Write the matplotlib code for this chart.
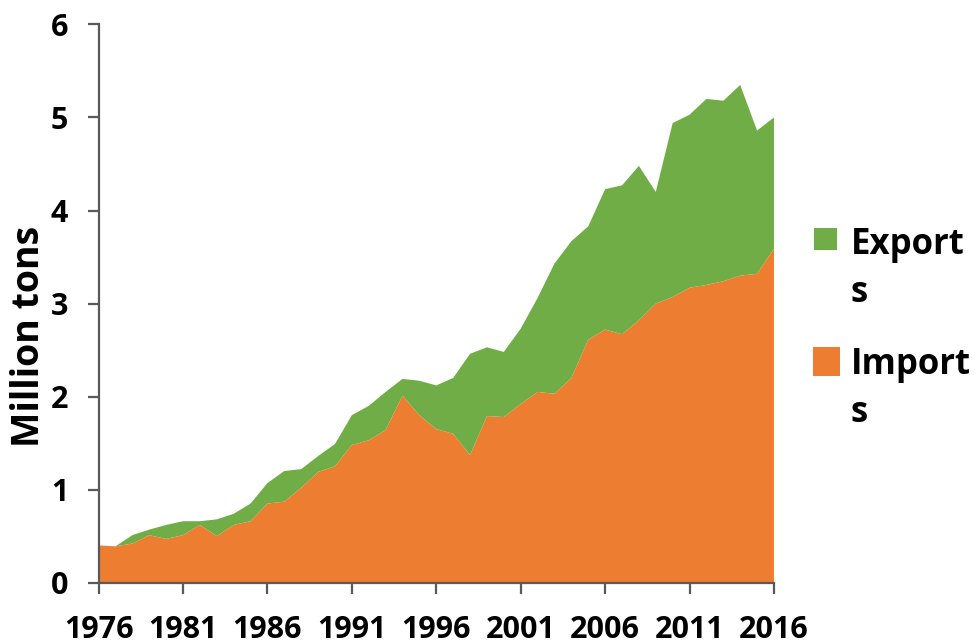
import matplotlib
matplotlib.use("Agg")
import matplotlib.pyplot as plt
from matplotlib.patches import Rectangle
import numpy as np

# Years 1976-2016
years = list(range(1976, 2017))

# Imports (million tons)
imports = [0.40, 0.39, 0.42, 0.51, 0.47, 0.51, 0.62, 0.50, 0.62, 0.66,
           0.85, 0.87, 1.02, 1.19, 1.25, 1.48, 1.53, 1.64, 2.01, 1.80,
           1.65, 1.60, 1.37, 1.79, 1.78, 1.92, 2.05, 2.03, 2.20, 2.61,
           2.72, 2.67, 2.82, 3.00, 3.07, 3.17, 3.20, 3.24, 3.30, 3.32,
           3.59]

totals = [0.40, 0.39, 0.51, 0.57, 0.62, 0.66, 0.66, 0.68, 0.74, 0.85,
          1.07, 1.20, 1.22, 1.36, 1.49, 1.80, 1.90, 2.05, 2.19, 2.17,
          2.12, 2.20, 2.46, 2.53, 2.48, 2.73, 3.06, 3.43, 3.67, 3.83,
          4.23, 4.27, 4.48, 4.20, 4.94, 5.03, 5.20, 5.18, 5.35, 4.86,
          5.00]

exports = list(np.array(totals) - np.array(imports))

series_names = ["Exports", "Imports"]

ORANGE = "#ED7D31"
GREEN = "#70AD47"
AXIS = "#595959"

plt.rcParams["font.family"] = ["Open Sans", "DejaVu Sans"]
plt.rcParams["font.weight"] = "bold"

W, H = 976.0, 644.0
fig = plt.figure(figsize=(W / 100, H / 100), dpi=100)
ax = fig.add_axes([0.101, 0.0953, 0.692, 0.8667])

ax.stackplot(years, imports, exports, colors=[ORANGE, GREEN], linewidth=0)

ax.set_xlim(1976, 2016)
ax.set_ylim(0, 6)
ax.set_xticks(range(1976, 2017, 5))
ax.set_yticks(range(0, 7))

for side in ["top", "right"]:
    ax.spines[side].set_visible(False)
for side in ["left", "bottom"]:
    ax.spines[side].set_color(AXIS)
    ax.spines[side].set_linewidth(1.6)

ax.tick_params(axis="x", direction="out", length=8, width=1.6, color=AXIS,
               pad=15, labelsize=22)
ax.tick_params(axis="y", direction="out", length=8, width=1.6, color=AXIS,
               pad=14, labelsize=22)
for lab in ax.get_xticklabels() + ax.get_yticklabels():
    lab.set_fontweight("bold")

# y axis title, placed a bit below the middle like the original
fig.text(29 / W, 1 - 336 / H, "Million tons", rotation=90, fontsize=27,
         fontweight="bold", ha="center", va="center")

# legend drawn by hand: square + wrapped label, as in the original
legend_items = [
    (GREEN, series_names[0], (814, 228, 23, 22), 254),
    (ORANGE, series_names[1], (813, 347, 27, 29), 374),
]
for color, name, (x0, y0, w, h), base in legend_items:
    fig.add_artist(Rectangle((x0 / W, 1 - (y0 + h) / H), w / W, h / H,
                             transform=fig.transFigure, facecolor=color,
                             edgecolor="none"))
    fig.text(851 / W, 1 - base / H, name[:-1], fontsize=25, fontweight="bold",
             va="baseline", ha="left")
    fig.text(851 / W, 1 - (base + 48) / H, name[-1], fontsize=25,
             fontweight="bold", va="baseline", ha="left")

fig.savefig("out.png", dpi=100)
